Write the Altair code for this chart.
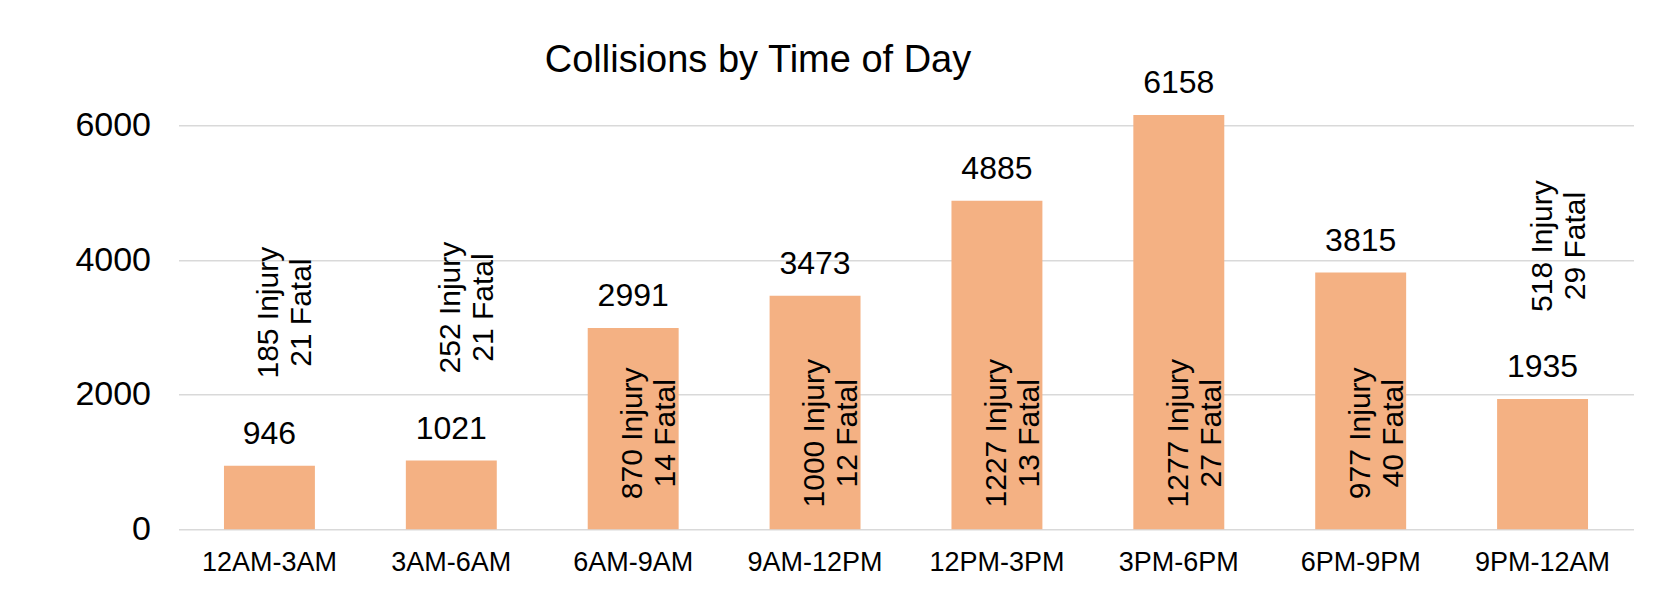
import altair as alt
import pandas as pd

periods = ["12AM-3AM", "3AM-6AM", "6AM-9AM", "9AM-12PM",
           "12PM-3PM", "3PM-6PM", "6PM-9PM", "9PM-12AM"]
totals = [946, 1021, 2991, 3473, 4885, 6158, 3815, 1935]
injuries = [185, 252, 870, 1000, 1227, 1277, 977, 518]
fatals = [21, 21, 14, 12, 13, 27, 40, 29]
chart_title = "Collisions by Time of Day"
y_ticks = [0, 2000, 4000, 6000]

df = pd.DataFrame({
    "period": periods,
    "total": totals,
    "injury": injuries,
    "fatal": fatals,
})
df["detail"] = [f"{i} Injury\n{f} Fatal" for i, f in zip(injuries, fatals)]
df["inside"] = df["total"] >= 2500

FONT = "Liberation Sans"
INK = "#000000"

x_enc = alt.X(
    "period:N", sort=periods, title=None,
    scale=alt.Scale(paddingInner=0.5, paddingOuter=0.25),
    axis=alt.Axis(labelAngle=0, labelFontSize=27, labelFont=FONT, labelColor=INK,
                  labelPadding=20, domain=False, ticks=False, tickSize=0, grid=False),
)
y_enc = alt.Y(
    "total:Q", title=None,
    scale=alt.Scale(domain=[0, 6510], nice=False, zero=True),
    axis=alt.Axis(values=y_ticks, format="d", labelFontSize=34, labelFont=FONT,
                  labelColor=INK, labelPadding=28, domain=False, ticks=False, tickSize=0,
                  grid=True, gridColor="#D9D9D9", gridWidth=1.5),
)

base = alt.Chart(df)

bars = base.mark_bar(color="#F4B183").encode(x=x_enc, y=y_enc)

values = base.mark_text(
    baseline="alphabetic", align="center", dy=-22,
    fontSize=32, font=FONT, color=INK,
).encode(x=alt.X("period:N", sort=periods), y=alt.Y("total:Q"), text=alt.Text("total:Q"))

inside = base.transform_filter("datum.inside").mark_text(
    angle=270, align="center", baseline="middle", dx=96,
    fontSize=30, lineHeight=33, lineBreak="\n", font=FONT, color=INK,
).encode(x=alt.X("period:N", sort=periods), y=alt.datum(0), text="detail:N")

above = base.transform_filter("!datum.inside").mark_text(
    angle=270, align="center", baseline="middle", dx=153,
    fontSize=30, lineHeight=33, lineBreak="\n", font=FONT, color=INK,
).encode(x=alt.X("period:N", sort=periods), y=alt.Y("total:Q"), text="detail:N")

title = alt.Chart(pd.DataFrame({"t": [chart_title]})).mark_text(
    align="center", baseline="alphabetic", fontSize=38, font=FONT, color=INK,
).encode(text="t:N", x=alt.value(579.5), y=alt.value(-19.6))

chart = alt.layer(bars, values, inside, above, title).properties(
    width=1455,
    height=438,
    padding={"left": 170.5, "top": 83.3, "right": 25, "bottom": 73},
    autosize=alt.AutoSizeParams(type="none"),
    background="white",
).configure_view(stroke="transparent")

chart.save("out.html", embed_options={"renderer": "svg", "actions": False})
